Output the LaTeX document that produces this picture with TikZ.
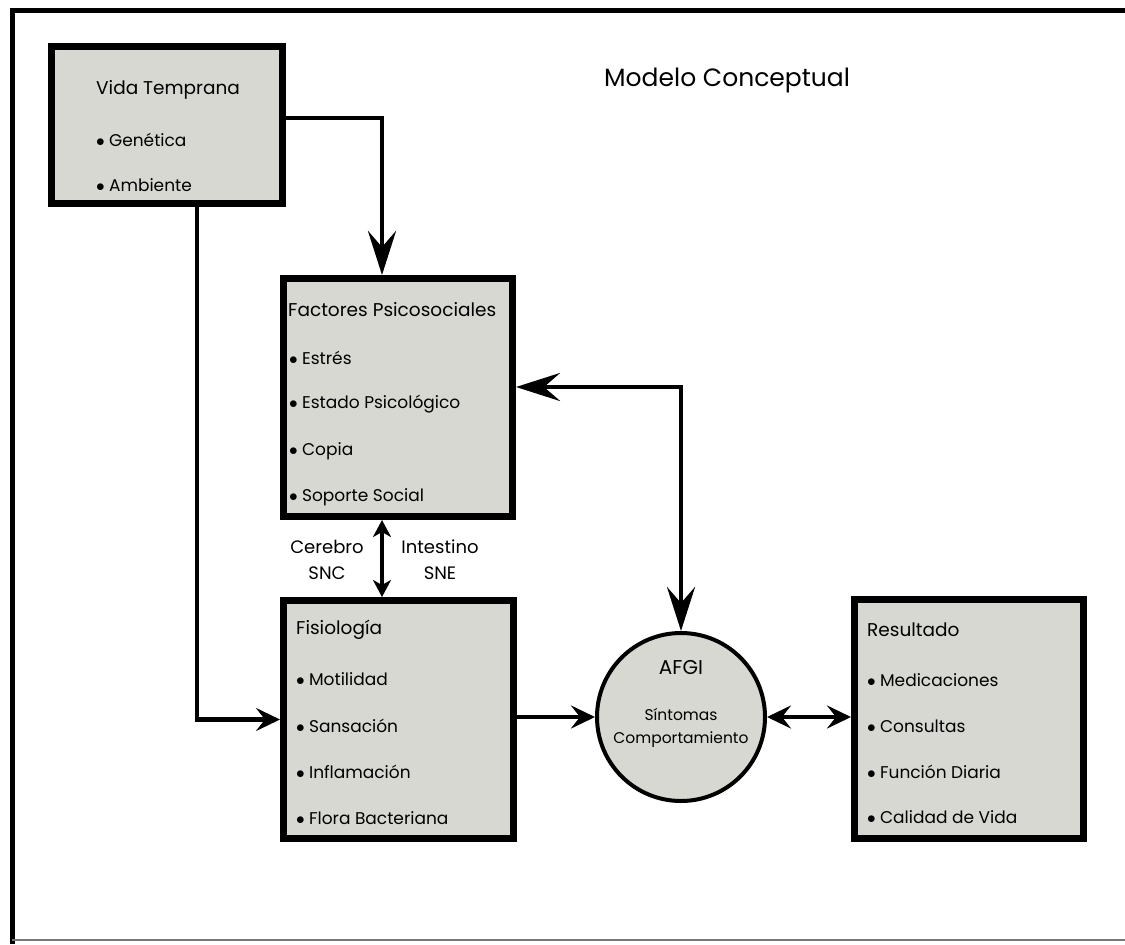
\documentclass[tikz,border=0pt]{standalone}
\usepackage{fontspec}
\setmainfont{Poppins}
\usetikzlibrary{arrows.meta}
\definecolor{boxfill}{RGB}{216,216,211}
\definecolor{framegray}{RGB}{120,120,120}
\newcommand{\bul}{$\bullet$\hspace{0.25em}}
\tikzset{
  box/.style={draw=black, line width=7pt, fill=boxfill, inner sep=0pt, rectangle},
  ttl/.style={anchor=west, inner sep=0pt, font=\fontsize{18.5}{22}\selectfont},
  itm/.style={anchor=west, inner sep=0pt, font=\fontsize{17}{20}\selectfont},
  conn/.style={line width=4.8pt, line cap=butt, line join=miter},
  bighead/.tip={Stealth[length=44pt,width=28pt,inset=16pt]},
  smallhead/.tip={Stealth[length=24pt,width=23pt,inset=9pt]},
  tinyhead/.tip={Stealth[length=17pt,width=18pt,inset=5pt]},
  lbl/.style={inner sep=0pt, align=center, font=\fontsize{18}{26}\selectfont}
}
\begin{document}
\begin{tikzpicture}[x=1pt,y=-1pt]
\useasboundingbox (0,0) rectangle (1125,945);
\fill[white] (0,0) rectangle (1125,945);
% frame
\draw[line width=5pt] (12,944) -- (12,10) -- (1125,10);
\draw[framegray, line width=2pt] (12,940) -- (1125,940);
% title
\node[inner sep=0pt, anchor=west, font=\fontsize{25}{30}\selectfont] (title) at (604,80) {Modelo Conceptual};
% boxes
\node[box, minimum width=231pt, minimum height=157pt] (vida) at (167,125) {};
\node[box, minimum width=229pt, minimum height=238pt] (fact) at (398,397.5) {};
\node[box, minimum width=230pt, minimum height=238pt] (fisio) at (398.5,719.5) {};
\node[box, minimum width=229pt, minimum height=239pt] (res) at (969,719) {};
\node[circle, draw=black, line width=4pt, fill=boxfill, minimum size=168pt, inner sep=0pt] (afgi) at (681,717) {};
% texts
\node[ttl] (v0) at (96,90) {Vida Temprana};
\node[itm] (v1) at (96,140) {\bul Genética};
\node[itm] (v2) at (96,185) {\bul Ambiente};
\node[ttl] (f0) at (288,310) {Factores Psicosociales};
\node[itm] (f1) at (289,358) {\bul Estrés};
\node[itm] (f2) at (289,404) {\bul Estado Psicológico};
\node[itm] (f3) at (289,451) {\bul Copia};
\node[itm] (f4) at (289,497) {\bul Soporte Social};
\node[ttl] (p0) at (296,630) {Fisiología};
\node[itm] (p1) at (296,679) {\bul Motilidad};
\node[itm] (p2) at (296,726) {\bul Sansación};
\node[itm] (p3) at (296,772) {\bul Inflamación};
\node[itm] (p4) at (296,818) {\bul Flora Bacteriana};
\node[ttl] (r0) at (867,630) {Resultado};
\node[itm] (r1) at (867,680) {\bul Medicaciones};
\node[itm] (r2) at (867,726) {\bul Consultas};
\node[itm] (r3) at (867,772) {\bul Función Diaria};
\node[itm] (r4) at (867,817) {\bul Calidad de Vida};
\node[inner sep=0pt, font=\fontsize{20}{24}\selectfont] (a0) at (681,668) {AFGI};
\node[inner sep=0pt, align=center, font=\fontsize{15.5}{23}\selectfont] (a1) at (681,728) {Síntomas\\Comportamiento};
\node[lbl] (cer) at (327,560) {Cerebro\\SNC};
\node[lbl] (int) at (440,560) {Intestino\\SNE};
% connectors
\draw[conn, -bighead] (vida.east |- 0,118) -| (382,275);
\draw[conn, -smallhead] (197,207) |- (fisio.west);
\draw[conn, tinyhead-tinyhead] (382,520) -- (382,597);
\draw[conn, bighead-bighead] (fact.east |- 0,387) -| (afgi.north);
\draw[conn, -smallhead] (fisio.east |- 0,717) -- (afgi.west);
\draw[conn, smallhead-smallhead] (afgi.east) -- (res.west |- afgi.east);
\end{tikzpicture}
\end{document}
